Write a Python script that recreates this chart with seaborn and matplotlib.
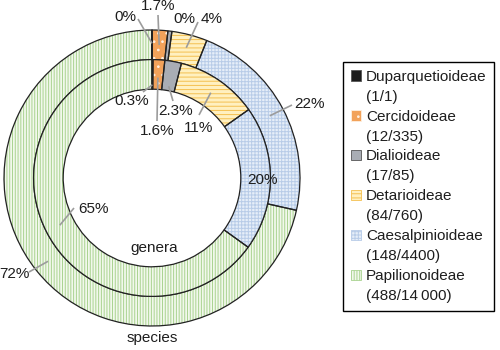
import numpy as np
import matplotlib
matplotlib.use("Agg")
import matplotlib.pyplot as plt
import seaborn as sns
from matplotlib.patches import Patch

# ---------------- data ----------------
categories = ["Duparquetioideae", "Cercidoideae", "Dialioideae",
              "Detarioideae", "Caesalpinioideae", "Papilionoideae"]
genera = [1, 12, 17, 84, 148, 488]
species = [1, 335, 85, 760, 4400, 14000]
genera_labels = ["0.3%", "1.6%", "2.3%", "11%", "20%", "65%"]
species_labels = ["0%", "1.7%", "0%", "4%", "22%", "72%"]
legend_counts = ["(1/1)", "(12/335)", "(17/85)", "(84/760)", "(148/4400)", "(488/14\u2009000)"]

# ---------------- style ----------------
sns.set_theme(style="white")
plt.rcParams['font.family'] = ['Liberation Sans', 'DejaVu Sans']
plt.rcParams['hatch.linewidth'] = 0.7

face = sns.color_palette(['#1c1c1c', '#f2a25a', '#a9adb4', '#fff0c0', '#e6eef8', '#f2f8ec'])
hatch_col = ['#1c1c1c', '#fff0e0', '#a9adb4', '#f4c050', '#b8cce8', '#a9d390']
hatches = [None, '..', None, '----', '+++++', '||||||']
TXT = '#1e1e1e'
LEAD = '#9c9c9c'
FS = 11

fig = plt.figure(figsize=(5, 3.5), dpi=100)
ax = fig.add_axes([0, 0, 1, 1])

# pixel layout helpers (centre and radius of pie in pixels)
CX, CY, R = 152, 178, 148
def px(x, y):
    return ((x - CX) / R, (CY - y) / R)

rings = {"outer": (species, 1.0), "inner": (genera, 0.8)}
for key, (vals, rad) in rings.items():
    wedges, _ = ax.pie(vals, radius=rad, startangle=90, counterclock=False,
                       wedgeprops=dict(width=0.2, linewidth=0))
    for w, fc, hc, h in zip(wedges, face, hatch_col, hatches):
        w.set_facecolor(fc)
        w.set_edgecolor(hc)
        if h:
            w.set_hatch(h)
    ax.pie(vals, radius=rad, startangle=90, counterclock=False,
           wedgeprops=dict(width=0.2, fill=False, edgecolor='#222222', linewidth=0.9))

def mid_angle(vals, i):
    vals = np.asarray(vals, float)
    cum = np.cumsum(vals)
    frac = (cum[i] - vals[i] / 2) / vals.sum()
    return np.deg2rad(90 - 360 * frac)

# label layout: (ring, index, text pixel pos, leader start pixel, anchor radius)
layout = [
    ("outer", 0, (125, 17), (138, 19), 0.91),
    ("outer", 1, (158, 6), (158, 15), 0.90),
    ("outer", 2, (184, 19), None, 0.90),
    ("outer", 3, (212, 19), (198, 22), 0.91),
    ("outer", 4, (309, 104), (292, 105), 0.90),
    ("outer", 5, (14, 274), (29, 272), 0.90),
    ("inner", 0, (132, 101), (143, 92), 0.63),
    ("inner", 1, (157, 131), (157, 121), 0.68),
    ("inner", 2, (176, 111), (173, 101), 0.63),
    ("inner", 3, (199, 128), (199, 115), 0.70),
    ("inner", 4, (262, 180), None, 0.70),
    ("inner", 5, (93, 209), (74, 208), 0.70),
]
for ring, i, tpos, spos, ar in layout:
    vals = rings[ring][0]
    text = (species_labels if ring == "outer" else genera_labels)[i]
    th = mid_angle(vals, i)
    if spos is not None:
        sx, sy = px(*spos)
        ax.plot([sx, ar * np.cos(th)], [sy, ar * np.sin(th)], color=LEAD, lw=1.2,
                solid_capstyle='butt', zorder=5)
    tx, ty = px(*tpos)
    ax.text(tx, ty, text, ha='center', va='center', fontsize=FS, color=TXT, zorder=6)

ax.text(*px(154, 248), "genera", ha='center', va='center', fontsize=FS, color=TXT)
ax.text(*px(152, 338), "species", ha='center', va='center', fontsize=FS, color=TXT)

ax.set_xlim(-CX / R, (500 - CX) / R)
ax.set_ylim((CY - 350) / R, CY / R)
ax.set_aspect('auto')
ax.axis('off')

# legend
handles, labels = [], []
for name, cnt, fc, hc, h in zip(categories, legend_counts, face, hatch_col, hatches):
    handles.append(Patch(facecolor=fc, edgecolor=hc if h else '#555555', hatch=h, linewidth=0.6))
    labels.append(name)
    handles.append(Patch(facecolor='none', edgecolor='none'))
    labels.append(cnt)
leg = fig.legend(handles, labels, loc='upper left',
                 bbox_to_anchor=(343 / 500, 1 - 62 / 350), bbox_transform=fig.transFigure,
                 frameon=True, fancybox=False, edgecolor='black', framealpha=1,
                 fontsize=FS, handlelength=0.7, handleheight=0.7, handletextpad=0.3,
                 labelspacing=0.39, borderpad=0.5, borderaxespad=0)
leg.get_frame().set_linewidth(1.0)
for t in leg.get_texts():
    t.set_color(TXT)

fig.savefig('out.png', dpi=100)
